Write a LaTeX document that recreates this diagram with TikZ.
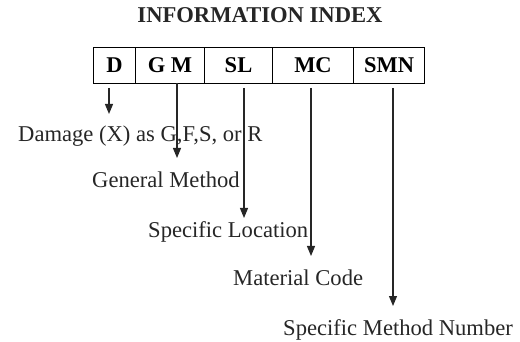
\documentclass[tikz,border=0pt]{standalone}
\usepackage{fontspec}
\setmainfont{Liberation Serif}
\usetikzlibrary{arrows.meta}
\begin{document}
\begin{tikzpicture}[x=1pt,y=-1pt,
  cell/.style={draw, line width=1pt, minimum height=36pt, inner sep=0pt, font=\fontsize{22.5}{25}\selectfont\bfseries, anchor=north west},
  lbl/.style={anchor=base west, inner sep=0pt, font=\fontsize{22.6}{25}\selectfont, text=black!85},
  arr/.style={line width=1.1pt, draw=black!85, -{Triangle[length=10pt,width=8pt]}}]
\useasboundingbox (0,0) rectangle (520,342);
\node[anchor=base, inner sep=0pt, font=\fontsize{22.6}{25}\selectfont\bfseries, text=black!85] (title) at (260,23) {INFORMATION INDEX};
\node[cell, minimum width=42pt] (d) at (93,47) {D};
\node[cell, minimum width=69pt] (gm) at (135,47) {G M};
\node[cell, minimum width=68pt] (sl) at (204,47) {SL};
\node[cell, minimum width=81pt] (mc) at (272,47) {MC};
\node[cell, minimum width=71pt] (smn) at (353,47) {SMN};
\node[lbl] (t1) at (18,141.5) {Damage (X) as G,F,S, or R};
\node[lbl] (t2) at (92,188) {General Method};
\node[lbl] (t3) at (148,237) {Specific Location};
\node[lbl] (t4) at (233,285) {Material Code};
\node[lbl] (t5) at (283,335) {Specific Method Number};
\coordinate (s1) at (109,88);
\coordinate (e1) at (109,114);
\coordinate (s2) at (177,83);
\coordinate (e2) at (177,158);
\coordinate (s3) at (244,88);
\coordinate (e3) at (244,218);
\coordinate (s4) at (311,88);
\coordinate (e4) at (311,256);
\coordinate (s5) at (393,88);
\coordinate (e5) at (393,306);
\draw[arr] (s1) -- (e1);
\draw[arr] (s2) -- (e2);
\draw[arr] (s3) -- (e3);
\draw[arr] (s4) -- (e4);
\draw[arr] (s5) -- (e5);
\end{tikzpicture}
\end{document}
